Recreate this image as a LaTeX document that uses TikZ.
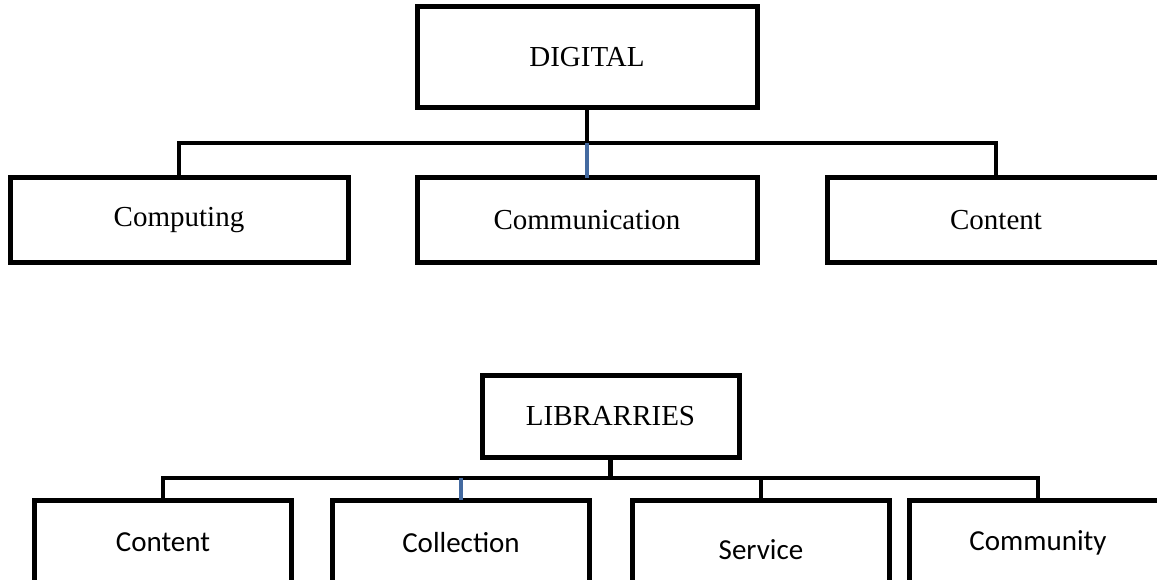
\documentclass[tikz,border=0pt]{standalone}
\usepackage{fontspec}
\setmainfont{Liberation Serif}
\newfontfamily\calibri{Carlito}
\definecolor{linkblue}{RGB}{68,106,160}

\begin{document}
\begin{tikzpicture}[x=1pt, y=-1pt,
    box/.style={draw, line width=5pt, inner sep=0pt, outer sep=0pt,
        font=\fontsize{29}{34}\selectfont},
    subbox/.style={box, minimum width=257pt, minimum height=85pt,
        font=\calibri\fontsize{29}{34}\selectfont},
    link/.style={line width=4.5pt},
    bluelink/.style={line width=3.5pt, draw=linkblue}]

\useasboundingbox (0,0) rectangle (1157,580);

% DIGITAL
\node[box, minimum width=340pt, minimum height=101pt] (digital) at (587,57.5) {DIGITAL};

\node[box, minimum width=338pt, minimum height=85pt] (computing) at (179,220.5) {Computing};
\node[box, minimum width=340pt, minimum height=85pt] (communication) at (587,220.5) {Communication};
\node[box, minimum width=338pt, minimum height=85pt] (content) at (996,220.5) {Content};

\coordinate (bus1) at (587,143);

%digital - - children
\draw[link] (digital.south) -- (digital.south |- bus1);
\draw[link] (computing.north) |- (bus1 -| content.north) -- (content.north);
\draw[bluelink] (bus1 -| communication.north) -- (communication.north);

% LIBRARRIES
\node[box, minimum width=257pt, minimum height=82pt] (libraries) at (610.5,416) {LIBRARRIES};

\node[subbox] (content2) at (163,542.5) {Content};
\node[subbox] (collection) at (461,542.5) {Collection};
\node[subbox, text height=34pt] (service) at (761,542.5) {Service};
\node[subbox] (community) at (1038,542.5) {Community};

\coordinate (bus2) at (610.5,478);

%libraries - - children
\draw[link] (libraries.south) -- (libraries.south |- bus2);
\draw[link] (content2.north) |- (bus2 -| community.north) -- (community.north);
\draw[link] (bus2 -| service.north) -- (service.north);
\draw[bluelink] (bus2 -| collection.north) -- (collection.north);

\end{tikzpicture}
\end{document}
